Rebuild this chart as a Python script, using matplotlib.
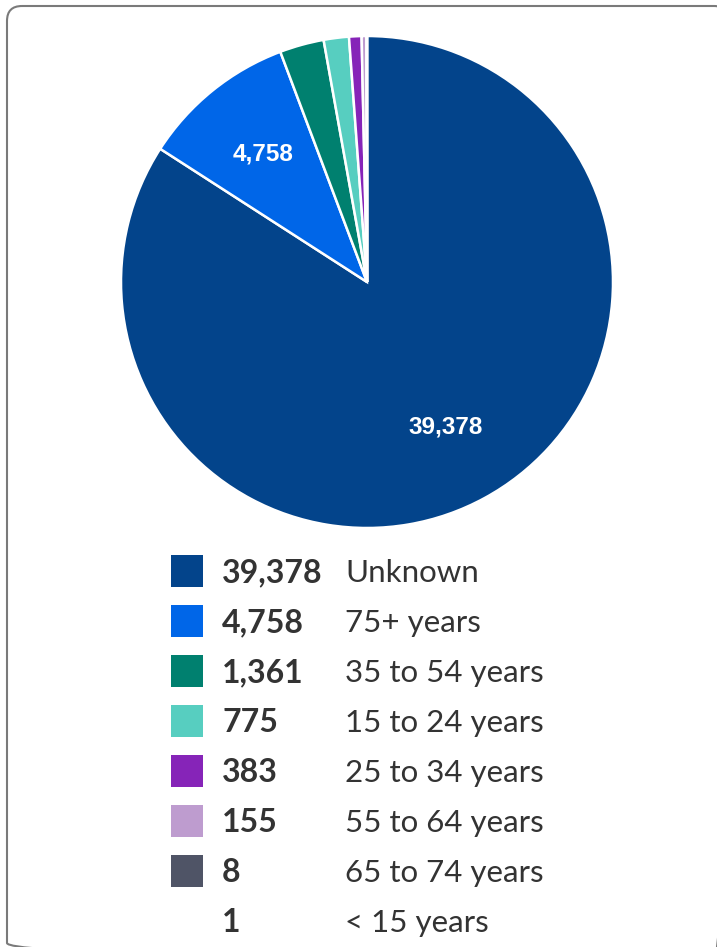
import matplotlib.pyplot as plt
from matplotlib.patches import FancyBboxPatch

# data
categories = ["Unknown", "75+ years", "35 to 54 years", "15 to 24 years",
              "25 to 34 years", "55 to 64 years", "65 to 74 years", "< 15 years"]
counts = [39378, 4758, 1361, 775, 383, 155, 8, 1]
colors = ["#03448B", "#0066E8", "#00806F", "#57CEC0",
          "#8624B8", "#BE9CCF", "#4F5466", "#FFFFFF"]

W, H = 717, 947
fig = plt.figure(figsize=(W / 100, H / 100), dpi=100)
fig.patch.set_facecolor("white")

# pie, centre (367, 282) radius 246 in pixels
cx, cy, r = 367, 282, 246
ax = fig.add_axes([(cx - r) / W, (H - cy - r) / H, 2 * r / W, 2 * r / H])
total = sum(counts)


def show_value(pct):
    v = int(round(pct * total / 100.0))
    return f"{v:,}" if pct > 5 else ""


wedges, texts, autotexts = ax.pie(
    counts, colors=colors, startangle=90, counterclock=False,
    autopct=show_value, pctdistance=0.67,
    wedgeprops=dict(edgecolor="white", linewidth=1.8),
    textprops=dict(color="white", fontsize=17.5, fontweight="bold",
                   family=["Liberation Sans", "DejaVu Sans"]))
ax.set_xlim(-1, 1)
ax.set_ylim(-1, 1)
ax.set_aspect("equal")
ax.axis("off")

# legend + card frame, drawn in pixel coordinates
lg = fig.add_axes([0, 0, 1, 1])
lg.axis("off")

row_y = [571 + 50 * i for i in range(len(categories))]
lg.scatter([187] * len(categories), row_y, marker="s", s=(32 * 0.72) ** 2,
           c=colors, linewidths=0)
for y, val, cat in zip(row_y, counts, categories):
    lg.text(222, y + 11, f"{val:,}", fontsize=23, fontweight="bold",
            color="#333333", va="baseline", family="Lato")
    lg.text(345, y + 11, cat, fontsize=22.5, color="#333333",
            va="baseline", family="Lato")

card = FancyBboxPatch((7, 6), 722, 952, boxstyle="round,pad=0,rounding_size=15",
                      facecolor="none", edgecolor="#7A7A7A", linewidth=1.5)
lg.add_patch(card)

lg.set_autoscale_on(False)
lg.set_xlim(0, W)
lg.set_ylim(H, 0)

fig.savefig("out.png", dpi=100)
